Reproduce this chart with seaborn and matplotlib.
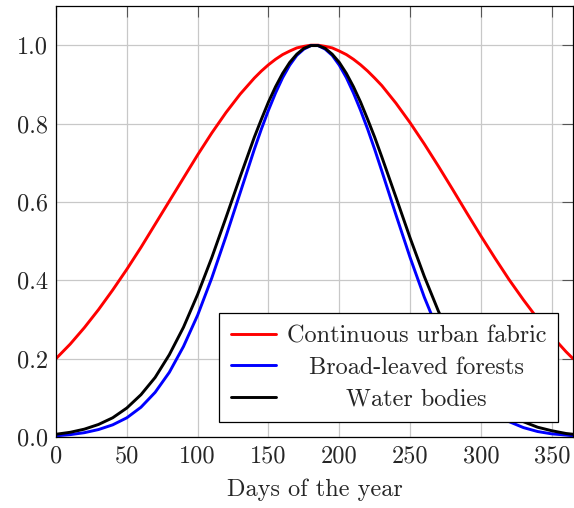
import matplotlib
matplotlib.use("Agg")
import matplotlib.pyplot as plt
import seaborn as sns
import pandas as pd

days = [0, 10, 20, 30, 40, 50, 60, 70, 80, 90, 100, 110, 120, 130, 140,
        145, 150, 155, 160, 165, 170, 175, 180, 185, 190, 195, 200, 205, 210, 215, 220, 225,
        230, 240, 250, 260, 270, 280, 290, 300, 310, 320, 330, 340, 350, 360, 365]

urban = [0.200, 0.237, 0.279, 0.325, 0.375, 0.428, 0.484, 0.543, 0.602, 0.661, 0.720, 0.776,
         0.828, 0.875, 0.916,
         0.934, 0.950, 0.964, 0.976, 0.985, 0.993, 0.997, 1.000, 1.000, 0.997, 0.993, 0.985,
         0.976, 0.964, 0.950, 0.934, 0.916,
         0.897, 0.852, 0.802, 0.748, 0.691, 0.632, 0.572, 0.513, 0.456, 0.401, 0.350, 0.302,
         0.258, 0.218, 0.200]

forest = [0.003, 0.006, 0.011, 0.019, 0.031, 0.049, 0.076, 0.114, 0.165, 0.231, 0.311, 0.406,
          0.512, 0.623, 0.734,
          0.786, 0.834, 0.878, 0.917, 0.949, 0.974, 0.990, 0.999, 0.999, 0.990, 0.974, 0.949,
          0.917, 0.878, 0.834, 0.786, 0.734,
          0.679, 0.567, 0.458, 0.357, 0.269, 0.196, 0.138, 0.094, 0.062, 0.039, 0.024, 0.014,
          0.008, 0.005, 0.003]

water = [0.007, 0.012, 0.020, 0.032, 0.049, 0.074, 0.108, 0.152, 0.210, 0.280, 0.364, 0.458,
         0.560, 0.664, 0.765,
         0.811, 0.855, 0.894, 0.928, 0.956, 0.977, 0.992, 0.999, 0.999, 0.992, 0.977, 0.956,
         0.928, 0.894, 0.855, 0.811, 0.765,
         0.715, 0.612, 0.508, 0.410, 0.321, 0.243, 0.180, 0.129, 0.089, 0.060, 0.039, 0.025,
         0.016, 0.009, 0.007]

labels = ["Continuous urban fabric", "Broad-leaved forests", "Water bodies"]
colors = ["#ff0000", "#0000ff", "#000000"]
x_ticks = [0, 50, 100, 150, 200, 250, 300, 350]
y_ticks = [0.0, 0.2, 0.4, 0.6, 0.8, 1.0]

df = pd.concat([
    pd.DataFrame({"day": days, "value": vals, "class": lab})
    for vals, lab in zip([urban, forest, water], labels)
])

sns.set_theme(style="white")
plt.rcParams["font.family"] = ["cmr10", "DejaVu Serif"]
plt.rcParams["mathtext.fontset"] = "cm"
plt.rcParams["axes.formatter.use_mathtext"] = True

FS = 17.5

fig = plt.figure(figsize=(5.74, 5.08), dpi=100)
ax = fig.add_axes([56 / 574, 71 / 508, 517 / 574, 431 / 508])

sns.lineplot(data=df, x="day", y="value", hue="class", hue_order=labels,
             palette=colors, linewidth=2.1, ax=ax, legend=False, sort=True)
for ln in ax.get_lines():
    ln.set_solid_joinstyle("round")

ax.set_xlim(0, 365)
ax.set_ylim(0, 1.1)
ax.set_xticks(x_ticks)
ax.set_xticklabels([str(v) for v in x_ticks])
ax.set_yticks(y_ticks)
ax.set_yticklabels([f"{v:.1f}" for v in y_ticks])
ax.grid(True, color="#c8c8c8", linewidth=0.9)
ax.set_axisbelow(True)
ax.tick_params(direction="in", length=8, width=0.8, color="#555555",
               top=True, right=True, labelsize=FS, pad=6)
for s in ax.spines.values():
    s.set_color("black")
    s.set_linewidth(0.9)
ax.set_xlabel("Days of the year", fontsize=FS, labelpad=8)
ax.set_ylabel("")

handles = [plt.Line2D([], [], color=c, linewidth=2.1) for c in colors]
leg = ax.legend(handles, labels, loc="lower right", fontsize=FS, frameon=True,
                fancybox=False, framealpha=1, edgecolor="black", borderaxespad=0.6,
                handlelength=1.85, handletextpad=0.45, labelspacing=0.38, borderpad=0.5)
leg.get_frame().set_linewidth(0.9)

fig.canvas.draw()
r = fig.canvas.get_renderer()
texts = leg.get_texts()
widths = [t.get_window_extent(r).width for t in texts]
mw = max(widths)
for t, w in zip(texts, widths):
    t.set_x((mw - w) / 2)

fig.savefig("out.png", dpi=100)
